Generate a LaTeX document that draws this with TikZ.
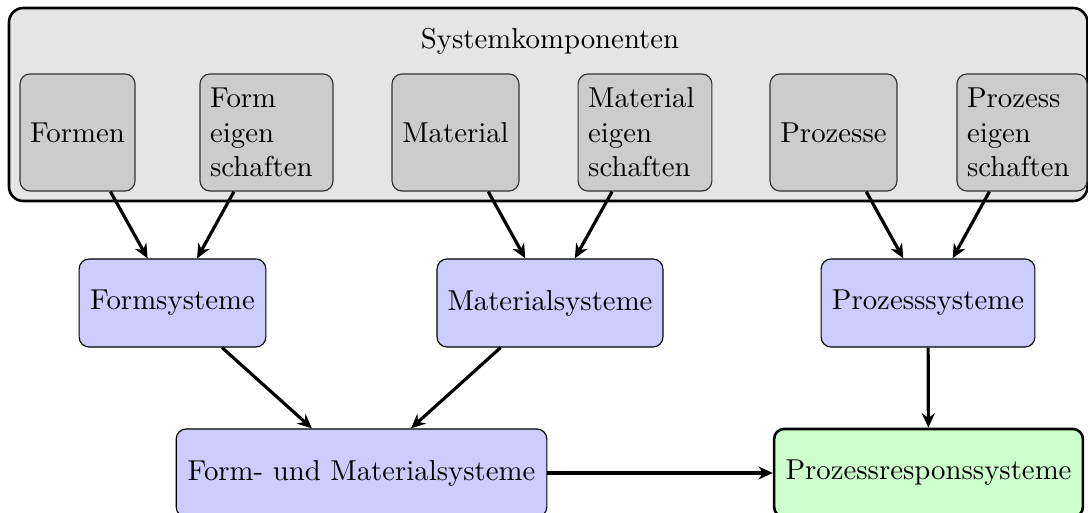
\documentclass[tikz,border=0pt]{standalone}
\usetikzlibrary{arrows.meta}
\definecolor{panelgray}{gray}{0.9}
\definecolor{compgray}{gray}{0.8}
\definecolor{sysblue}{RGB}{204,204,255}
\definecolor{respgreen}{RGB}{204,255,204}
\tikzset{
  comp/.style={draw=black!80, line width=0.4pt, fill=compgray, rounded corners=3.5pt,
    inner sep=3.5pt, minimum height=40.7pt},
  compml/.style={comp, align=left},
  sysbox/.style={draw=black, line width=0.4pt, fill=sysblue, rounded corners=3.5pt,
    inner sep=3.5pt, minimum height=30.6pt},
  respbox/.style={draw=black, line width=0.9pt, fill=respgreen, rounded corners=3.5pt,
    inner sep=3.5pt, minimum height=30.6pt},
  flow/.style={line width=1.1pt, -{Stealth[length=5pt,width=4.5pt]}}
}
\begin{document}
\begin{tikzpicture}[x=0.3475pt, y=-0.3475pt]
  \useasboundingbox (0,0) rectangle (1088,513);
  \clip (0,0) rectangle (1088,513);

  % container of all system components
  \draw[line width=0.9pt, fill=panelgray, rounded corners=5pt] (9,8) rectangle (1087.5,201);
  \node[anchor=base] (title) at (550,49) {Systemkomponenten};

  % component boxes
  \node[comp, minimum width=39.9pt] (formen) at (77.5,132.5) {Formen};
  \node[compml, text width=39.2pt] (formeig) at (266.5,132.5) {Form\\eigen\\schaften};
  \node[comp, minimum width=44.1pt] (material) at (455.5,132.5) {Material};
  \node[compml, text width=39.5pt] (mateig) at (645,132.5) {Material\\eigen\\schaften};
  \node[comp, minimum width=44.1pt] (prozesse) at (833.5,132.5) {Prozesse};
  \node[compml, text width=38.2pt] (prozeig) at (1022,132.5) {Prozess\\eigen\\schaften};

  % system boxes
  \node[sysbox, minimum width=64.9pt] (formsys) at (172.5,303) {Formsysteme};
  \node[sysbox, minimum width=78.5pt] (matsys) at (550,303) {Materialsysteme};
  \node[sysbox, minimum width=74.3pt] (prozsys) at (928,303) {Prozesssysteme};

  % combined systems and response systems
  \node[sysbox, minimum width=128.8pt] (fmsys) at (361.5,473) {Form- und Materialsysteme};
  \node[respbox, minimum width=107.3pt] (respsys) at (928.5,473) {Prozessresponssysteme};

  % connectors
  \draw[flow] (formen) -- (formsys);
  \draw[flow] (formeig) -- (formsys);
  \draw[flow] (material) -- (matsys);
  \draw[flow] (mateig) -- (matsys);
  \draw[flow] (prozesse) -- (prozsys);
  \draw[flow] (prozeig) -- (prozsys);
  \draw[flow] (formsys) -- (fmsys);
  \draw[flow] (matsys) -- (fmsys);
  \draw[flow] (prozsys) -- (respsys);
  \draw[flow] (fmsys) -- (respsys);
\end{tikzpicture}
\end{document}
